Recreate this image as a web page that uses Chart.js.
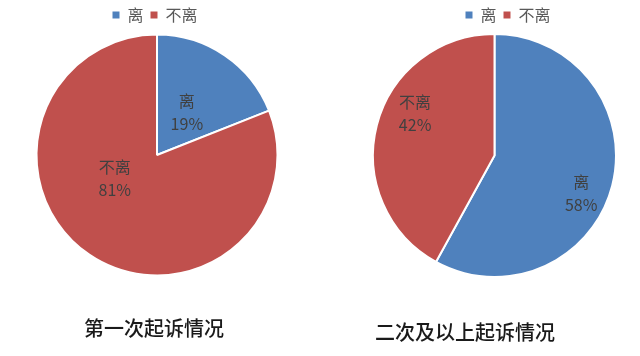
<!DOCTYPE html>
<html>
<head>
<meta charset="utf-8">
<script src="https://cdn.jsdelivr.net/npm/chart.js@4/dist/chart.umd.min.js"></script>
<style>
  html, body { margin: 0; padding: 0; background: #ffffff; }
  .box { position: absolute; top: 0; width: 320px; height: 356px; }
  #b1 { left: 0; }
  #b2 { left: 320px; }
</style>
</head>
<body>
<div class="box" id="b1"><canvas id="c1"></canvas></div>
<div class="box" id="b2"><canvas id="c2"></canvas></div>
<script>
// ---- data ----
const categories = ['离', '不离'];
const firstValues = [19, 81];          // 第一次起诉情况 (%)
const repeatValues = [58, 42];         // 二次及以上起诉情况 (%)
const chartTitles = ['第一次起诉情况', '二次及以上起诉情况'];
const sliceColors = ['#4F81BD', '#C0504D'];

const FONT = '"Noto Sans CJK SC", "Noto Sans", sans-serif';

// shift chart area / legend after layout
const shiftPlugin = {
  id: 'shift',
  afterLayout(chart, args, opts) {
    const a = chart.chartArea;
    const dx = opts.areaX || 0, dy = opts.areaY || 0;
    a.left += dx; a.right += dx; a.top += dy; a.bottom += dy;
    if (chart.legend && opts.legendX) {
      chart.legend.left += opts.legendX;
      chart.legend.right += opts.legendX;
    }
  }
};

// in-slice labels: category + percentage
const sliceLabelPlugin = {
  id: 'sliceLabels',
  afterDatasetsDraw(chart, args, opts) {
    const ctx = chart.ctx;
    const meta = chart.getDatasetMeta(0);
    const data = chart.data.datasets[0].data;
    const total = data.reduce((s, v) => s + v, 0);
    ctx.save();
    ctx.fillStyle = opts.color || '#404040';
    ctx.font = (opts.size || 15) + 'px ' + FONT;
    ctx.textAlign = 'center';
    ctx.textBaseline = 'middle';
    meta.data.forEach((arc, i) => {
      const p = arc.getProps(['x', 'y', 'startAngle', 'endAngle', 'outerRadius'], true);
      const pos = (opts.positions || [])[i] || {off: 0, r: 0.6};
      const ang = (p.startAngle + p.endAngle) / 2 + pos.off * Math.PI / 180;
      const cx = p.x + Math.cos(ang) * p.outerRadius * pos.r;
      const cy = p.y + Math.sin(ang) * p.outerRadius * pos.r;
      const pct = Math.round(data[i] / total * 100) + '%';
      const gap = (opts.lineGap || 23) / 2;
      ctx.fillText(chart.data.labels[i], cx, cy - gap);
      ctx.fillText(pct, cx, cy + gap);
    });
    ctx.restore();
  }
};

function makePie(id, values, title, cfg) {
  return new Chart(document.getElementById(id), {
    type: 'pie',
    data: {
      labels: categories,
      datasets: [{
        data: values,
        backgroundColor: sliceColors,
        borderColor: '#ffffff',
        borderWidth: 2
      }]
    },
    options: {
      responsive: true,
      maintainAspectRatio: false,
      animation: false,
      layout: { padding: { left: 0, right: cfg.padRight, top: 0, bottom: 0 } },
      plugins: {
        tooltip: { enabled: false },
        legend: {
          position: 'top',
          labels: {
            boxWidth: 7,
            boxHeight: 7,
            padding: 7,
            color: '#595959',
            font: { family: FONT, size: 16 },
            generateLabels(chart) {
              const base = Chart.overrides.pie.plugins.legend.labels.generateLabels(chart);
              return base.map(l => Object.assign(l, { lineWidth: 0, strokeStyle: 'rgba(0,0,0,0)' }));
            }
          }
        },
        title: {
          display: true,
          position: 'bottom',
          text: title,
          color: '#1a1a1a',
          font: { family: FONT, size: 20, weight: 500 },
          padding: { top: cfg.titleTop, bottom: cfg.titleBottom }
        },
        shift: { areaX: cfg.areaX, areaY: cfg.areaY, legendX: cfg.legendX },
        sliceLabels: { positions: cfg.labelPos, size: 16, lineGap: 23, color: '#404040' }
      }
    },
    plugins: [shiftPlugin, sliceLabelPlugin]
  });
}

makePie('c1', firstValues, chartTitles[0], {
  padRight: 12, titleTop: 40, titleBottom: 16, areaX: 3, areaY: 0.5, legendX: 1,
  labelPos: [{off: 1, r: 0.43}, {off: 27, r: 0.40}]
});
makePie('c2', repeatValues, chartTitles[1], {
  padRight: 30, titleTop: 42, titleBottom: 12, areaX: 29.5, areaY: 0, legendX: 43,
  labelPos: [{off: 9.4, r: 0.78}, {off: 13.6, r: 0.74}]
});
</script>
</body>
</html>
